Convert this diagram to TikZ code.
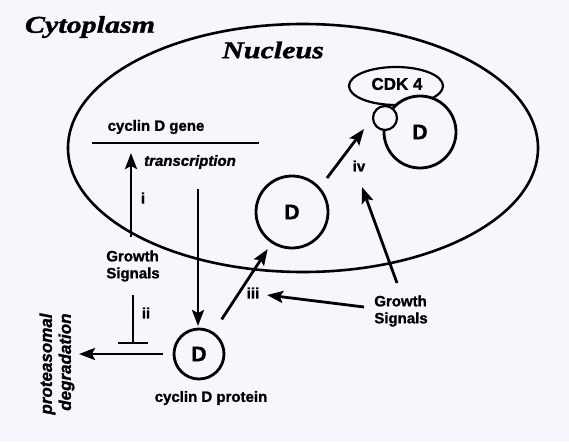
\documentclass[tikz,border=0pt]{standalone}
\usepackage{fontspec}
\setmainfont{Liberation Sans}[BoldFeatures={FakeBold=1.2},BoldItalicFeatures={FakeBold=1.2}]
\newfontfamily\serbi{Liberation Serif}[FakeStretch=1.25,BoldItalicFeatures={FakeBold=1.5}]
\usetikzlibrary{arrows.meta,shapes.geometric}
\definecolor{bg}{RGB}{245,247,252}
\tikzset{
  arr/.style={line width=2.8pt,-{Stealth[length=16pt,width=12pt,inset=3pt]}},
  ln/.style={line width=2.8pt},
  lab/.style={font=\fontsize{15}{17}\selectfont\bfseries, inner sep=0pt},
  labi/.style={font=\fontsize{15}{17}\selectfont\bfseries\itshape, inner sep=0pt},
  title/.style={font=\serbi\fontsize{24}{26}\selectfont\bfseries\itshape, inner sep=0pt},
  dcirc/.style={circle, draw, line width=2.8pt, fill=bg, inner sep=0pt, font=\fontsize{21}{21}\selectfont\bfseries},
}
\begin{document}
\begin{tikzpicture}[x=1pt,y=-1pt]
\fill[bg] (0,0) rectangle (569,441);
\useasboundingbox (0,0) rectangle (569,441);
% nucleus
\node[ellipse, draw, line width=2.6pt, minimum width=470pt, minimum height=248pt, inner sep=0pt] (nuc) at (303,148) {};
\node[title] (cyto) at (90,27) {Cytoplasm};
\node[title] (nuct) at (273,50) {Nucleus};
% complex
\node[ellipse, draw, line width=2.2pt, minimum width=94pt, minimum height=38pt, inner sep=0pt] (cdk) at (396,86) {};
\node[inner sep=0pt, font=\fontsize{17}{17}\selectfont\bfseries] (cdkt) at (397,84) {CDK 4};
\node[dcirc, minimum size=72pt] (Dc) at (420,132) {D};
\node[circle, draw, line width=2.2pt, fill=bg, minimum size=24pt, inner sep=0pt] (sm) at (385,118) {};
% middle D and protein D
\node[dcirc, minimum size=72pt] (Dm) at (292,212) {D};
\node[dcirc, minimum size=50pt] (Dp) at (199,354) {D};
\node[lab] (prot) at (211,398) {cyclin D protein};
% gene
\node[lab] (gene) at (156,127) {cyclin D gene};
\coordinate (gl1) at (92,143);
\coordinate (gl2) at (259,143);
\draw[ln] (gl1) -- (gl2);
\node[labi] (trans) at (190,162) {transcription};
% growth signals
\node[lab, align=left] (gsL) at (133,266) {Growth\\Signals};
\node[lab, align=left] (gsR) at (401,311) {Growth\\Signals};
% arrow i
\coordinate (iS) at (131,237);
\coordinate (iE) at (131,153);
\draw[arr] (iS) -- (iE);
\node[lab] (li) at (143,198) {i};
% transcription arrow
\coordinate (tS) at (198,189);
\coordinate (tE) at (198,326);
\draw[arr] (tS) -- (tE);
% inhibition ii
\coordinate (iiS) at (133,295);
\coordinate (iiE) at (133,343);
\draw[ln] (iiS) -- (iiE);
\draw[ln] ([xshift=-15pt]iiE) -- ([xshift=15pt]iiE);
\node[lab] (lii) at (146,313) {ii};
% degradation
\coordinate (degE) at (79,354);
\draw[arr] (Dp.west) ++(-10pt,0) coordinate (degS) (degS) -- (degE);
\node[rotate=90, align=right, inner sep=0pt, font=\fontsize{17}{19}\selectfont\bfseries\itshape] (deg) at (57,364) {proteasomal\\degradation};
% protein to middle D
\draw[arr, shorten <=15pt, shorten >=7pt] (Dp) -- (Dm);
% iii
\coordinate (iiiS) at (364,307);
\coordinate (iiiE) at (267,295);
\draw[arr] (iiiS) -- (iiiE);
\node[lab] (liii) at (253,293) {iii};
% iv
\coordinate (ivS) at (327,178);
\coordinate (ivE) at (364,129);
\draw[arr] (ivS) -- (ivE);
\node[lab] (liv) at (359,166) {iv};
% growth signals to nucleus
\coordinate (gS) at (397,283);
\coordinate (gE) at (362,187);
\draw[arr] (gS) -- (gE);
\end{tikzpicture}
\end{document}
